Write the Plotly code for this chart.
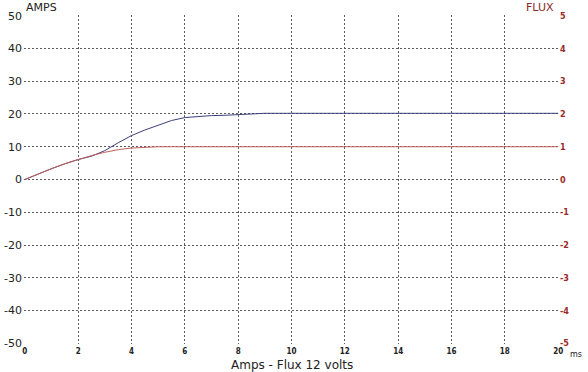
import plotly.graph_objects as go

time_ms = [0, 0.5, 1, 1.5, 2, 2.5, 3, 3.5, 4, 4.5, 5, 5.5, 6, 6.5, 7, 7.5, 8, 8.3, 9, 10, 12, 14, 16, 18, 20]
amps = [0, 1.7, 3.3, 4.8, 6.1, 7.1, 8.8, 11.2, 13.4, 15.1, 16.6, 18.0, 18.9, 19.3, 19.5, 19.6, 19.8, 20.1, 20.2, 20.2, 20.2, 20.2, 20.2, 20.2, 20.2]
flux = [0, 0.17, 0.33, 0.48, 0.61, 0.73, 0.83, 0.91, 0.96, 0.99, 1.0, 1.0, 1.0, 1.0, 1.0, 1.0, 1.0, 1.0, 1.0, 1.0, 1.0, 1.0, 1.0, 1.0, 1.0]

x_ticks = [0, 2, 4, 6, 8, 10, 12, 14, 16, 18, 20]
amp_ticks = [50, 40, 30, 20, 10, 0, -10, -20, -30, -40, -50]
flux_ticks = [5, 4, 3, 2, 1, 0, -1, -2, -3, -4, -5]

fig = go.Figure()
fig.add_trace(go.Scatter(x=time_ms, y=flux, mode="lines", yaxis="y2",
                         line=dict(color="#c0605a", width=1), showlegend=False))
fig.add_trace(go.Scatter(x=time_ms, y=amps, mode="lines",
                         line=dict(color="#3c4078", width=1), showlegend=False))

grid = "#5a5a5a"
gdash = "2px,2px"
fig.update_layout(
    width=588, height=372,
    margin=dict(l=24, r=29, t=15, b=28),
    paper_bgcolor="white", plot_bgcolor="white",
    font=dict(family="DejaVu Sans", color="#222222"),
    xaxis=dict(range=[-0.03, 20.03], tickvals=x_ticks, ticktext=[str(v) for v in x_ticks],
               showgrid=True, gridcolor=grid, griddash=gdash, gridwidth=1, automargin=False,
               zeroline=False, showline=False, ticks="", ticklabelstandoff=1,
               tickfont=dict(family="DejaVu Sans Condensed", size=8, color="#222", weight="bold")),
    yaxis=dict(range=[-50.2, 50.2], tickvals=amp_ticks, ticktext=[str(v) for v in amp_ticks],
               showgrid=True, gridcolor=grid, griddash=gdash, gridwidth=1, automargin=False,
               zeroline=False, showline=False, ticks="", ticklabelstandoff=1,
               tickfont=dict(family="DejaVu Sans", size=11, color="#222")),
    yaxis2=dict(range=[-5.02, 5.02], overlaying="y", side="right", automargin=False,
                tickvals=flux_ticks, ticktext=[str(v) for v in flux_ticks],
                showgrid=False, zeroline=False, showline=False, ticks="", ticklabelstandoff=0,
                tickfont=dict(family="DejaVu Sans Condensed", size=9, color="#9a2a2a", weight="bold")),
    annotations=[
        dict(text="AMPS", xref="paper", yref="paper", x=0, y=1, xanchor="left", yanchor="bottom",
             yshift=-1, showarrow=False, font=dict(family="DejaVu Sans", size=11, color="#222")),
        dict(text="FLUX", xref="paper", yref="paper", x=1, y=1, xanchor="right", yanchor="bottom",
             xshift=-3, yshift=-1, showarrow=False, font=dict(family="DejaVu Sans", size=11, color="#8b2a2a")),
        dict(text="ms", xref="paper", yref="paper", x=1, y=0, xanchor="left", yanchor="top",
             xshift=9, yshift=-4, showarrow=False, font=dict(family="DejaVu Sans", size=8, color="#222")),
        dict(text="Amps - Flux 12 volts", xref="paper", yref="paper", x=0.5, y=0, xanchor="center",
             yanchor="top", yshift=-12, showarrow=False, font=dict(family="DejaVu Sans", size=12, color="#222")),
    ],
)
fig.write_html("out.html", config={"displayModeBar": False},
               post_script="document.body.style.margin='0';")
